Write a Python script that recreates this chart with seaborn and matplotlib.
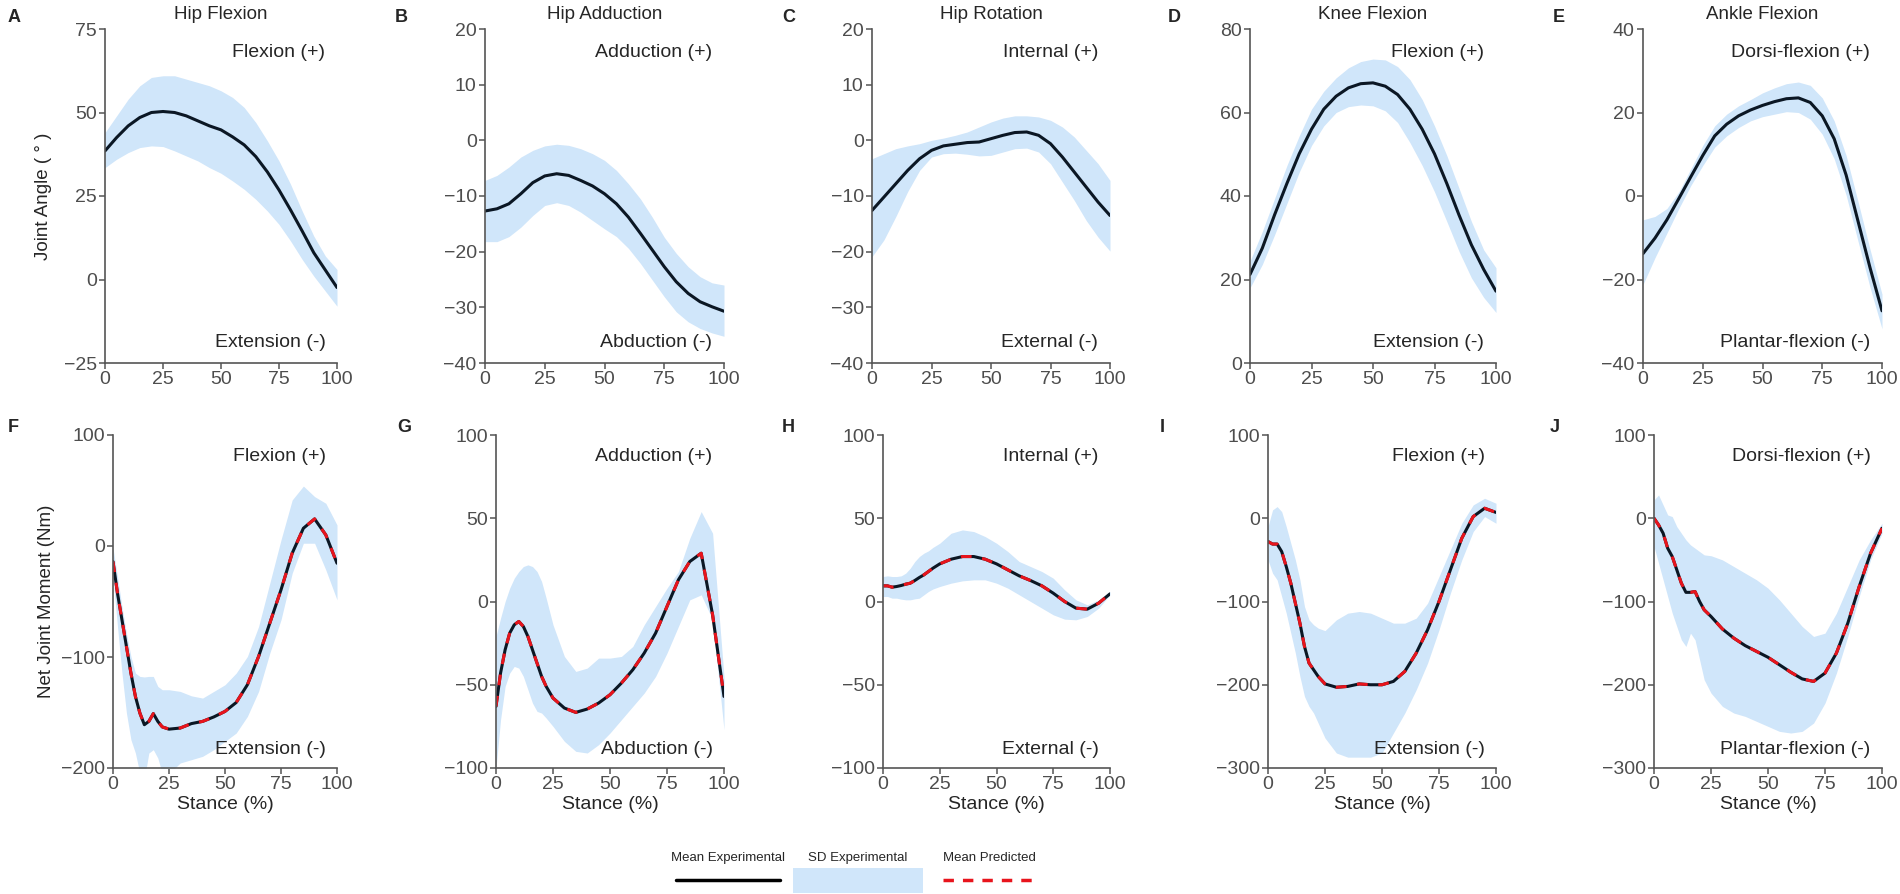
import seaborn as sns
import matplotlib.pyplot as plt
import numpy as np
import pandas as pd

# stance percentage for angles (top row) and moments (bottom row)
x_top = [0, 5, 10, 15, 20, 25, 30, 35, 40, 45, 50, 55, 60, 65, 70, 75, 80, 85, 90, 95, 100]
x_bot = [0, 2, 4, 6, 8, 10, 12, 14, 16, 18, 20, 22, 25, 30, 35, 40, 45, 50, 55, 60, 65, 70, 75, 80, 85, 90, 95, 100]

# ---- joint angles (deg) ----
hip_flex_mean = [38.5, 42.5, 46, 48.5, 50, 50.3, 50, 49, 47.5, 46, 44.8, 42.7, 40.3, 36.8, 32.2, 26.8, 20.8, 14.5, 8, 2.8, -2.4]
hip_flex_up = [44, 49, 54, 58, 60.5, 61, 61, 60, 59, 58, 56.5, 54.5, 51.5, 47, 41.5, 35.5, 28.5, 20.5, 13, 7, 3]
hip_flex_lo = [33.5, 36, 38, 39.5, 40, 39.8, 38.5, 37, 35.5, 33.5, 31.8, 29.5, 27, 24, 20.5, 16.5, 11.5, 6, 1, -3.5, -8]

hip_add_mean = [-12.7, -12.3, -11.4, -9.6, -7.6, -6.4, -6.0, -6.3, -7.2, -8.2, -9.6, -11.4, -13.8, -16.7, -19.7, -22.7, -25.4, -27.5, -29.0, -29.9, -30.7]
hip_add_up = [-7.2, -6.3, -4.8, -3.0, -1.8, -1.0, -0.7, -0.9, -1.5, -2.4, -3.6, -5.4, -7.8, -10.5, -13.8, -17.4, -20.3, -22.7, -24.5, -25.6, -26.0]
hip_add_lo = [-18.2, -18.2, -17.3, -15.6, -13.5, -11.7, -11.2, -11.7, -12.9, -14.4, -15.9, -17.3, -19.4, -22.1, -25.1, -28.1, -30.8, -32.6, -33.8, -34.6, -35.2]

hip_rot_mean = [-12.6, -10.2, -7.8, -5.4, -3.3, -1.8, -1.0, -0.7, -0.4, -0.3, 0.3, 0.9, 1.4, 1.5, 0.9, -0.6, -3.0, -5.7, -8.4, -11.1, -13.5]
hip_rot_up = [-3.3, -2.4, -1.5, -1.0, -0.6, 0.0, 0.4, 0.9, 1.5, 2.4, 3.3, 4.0, 4.4, 4.4, 4.2, 3.6, 2.4, 0.6, -1.8, -4.2, -7.2]
hip_rot_lo = [-20.9, -17.9, -13.7, -9.2, -5.4, -3.0, -2.4, -2.3, -2.5, -2.8, -2.7, -2.1, -1.5, -1.4, -2.1, -4.2, -7.5, -10.8, -14.4, -17.4, -19.9]

knee_flex_mean = [21.2, 27.5, 35.5, 43.0, 50.1, 56.0, 60.8, 63.9, 65.9, 66.9, 67.1, 66.3, 64.3, 60.8, 56.0, 50.1, 43.0, 35.4, 28.3, 22.4, 17.2]
knee_flex_up = [24.4, 31.5, 39.4, 47.3, 54.4, 60.8, 65.1, 68.3, 70.7, 72.2, 72.8, 72.6, 71.0, 67.9, 63.1, 56.8, 49.7, 41.8, 33.9, 27.1, 22.8]
knee_flex_lo = [18.0, 23.6, 30.7, 38.2, 45.7, 52.1, 56.8, 60.0, 61.4, 61.8, 61.6, 60.4, 57.6, 52.8, 47.3, 41.0, 33.9, 26.7, 20.4, 15.7, 12.1]

ankle_flex_mean = [-13.8, -10.1, -5.7, -0.6, 4.6, 9.7, 14.4, 17.2, 19.2, 20.6, 21.7, 22.6, 23.3, 23.5, 22.4, 19.2, 13.7, 5.0, -6.1, -17.2, -27.5]
ankle_flex_up = [-5.7, -4.9, -3.0, 1.0, 6.5, 12.1, 16.8, 19.6, 21.6, 23.1, 24.7, 25.9, 26.9, 27.3, 26.5, 23.5, 18.0, 9.7, -1.4, -12.8, -23.5]
ankle_flex_lo = [-21.2, -14.8, -8.9, -3.0, 2.5, 7.3, 11.7, 14.4, 16.4, 18.0, 19.0, 19.6, 20.2, 20.0, 18.4, 14.8, 8.9, 0.2, -10.9, -21.9, -31.8]

# ---- net joint moments (Nm) ----
hip_flex_m_mean = [-14, -42.5, -66.5, -90.5, -114.5, -135.5, -150.5, -161, -158, -151, -158, -163, -165, -164, -160, -158, -154, -149, -141, -125, -99.5, -69.5, -39.5, -6.5, 16, 24.4, 10, -15.5]
hip_flex_m_up = [-2, -27.5, -54.5, -78.5, -99.5, -114.5, -117.5, -118, -117.5, -117.5, -126.5, -129.5, -129.5, -131, -135, -137, -131, -125, -114.5, -99.5, -72.5, -33.5, 5.5, 41.5, 54, 44.5, 38.5, 19]
hip_flex_m_lo = [-27.5, -72.5, -114.5, -150.5, -174.5, -186.5, -205, -210, -186.5, -183.5, -191, -205, -205, -195.5, -192.5, -189.5, -183.5, -176, -168.5, -153.5, -131, -96.5, -66.5, -24.5, 2.5, 2.5, -21.5, -48.5]

hip_add_m_mean = [-63, -43, -29, -19, -14, -12, -15, -21, -29, -37, -45, -51, -58, -64, -66.6, -64.6, -61, -56, -49, -41, -31, -19, -3, 13, 24, 29, -8, -57]
hip_add_m_up = [-21, -10, 0, 8, 14, 18, 21, 22, 21, 18, 12, 2, -14, -33, -42, -40, -34, -34, -33, -27, -14, -3, 8, 18, 38, 54, 41, -45]
hip_add_m_lo = [-100, -71, -51, -43, -39, -40, -45, -53, -61, -66, -67, -70, -75, -84, -90, -91, -86, -79, -71, -63, -55, -45, -31, -15, 1, 4, -11, -77]

hip_rot_m_mean = [9.4, 9.4, 8.6, 9, 9.6, 10.4, 11, 12.6, 14.4, 16, 18, 20, 22.6, 25.4, 27, 27, 25.4, 22.6, 19, 15.4, 12.6, 9.4, 5, 0, -4, -4.6, -1, 4.6]
hip_rot_m_up = [15, 15.4, 15, 15, 15.4, 17, 20, 24, 27, 29, 30.4, 32.5, 35, 41, 43, 42, 39, 35, 30, 24, 21, 18, 14, 7, 1, -2, 1, 6]
hip_rot_m_lo = [3, 3, 2, 2, 1.4, 1, 1, 1.6, 2, 4, 6, 7.5, 9, 11, 12.4, 13, 13, 11, 8, 4, 0, -4, -8, -10.6, -11, -9, -4, 4]

knee_flex_m_mean = [-28, -31, -31, -40, -58, -78, -102, -126, -154, -174, -182, -190, -199, -203, -202, -199, -200, -200, -196, -184, -162, -134, -100, -62, -24, 2, 12, 7]
knee_flex_m_up = [-10, 10, 14, 8, -10, -30, -50, -74, -106, -122, -128, -132, -135, -122, -114, -112, -114, -120, -126, -126, -120, -102, -70, -38, -6, 16, 24, 18]
knee_flex_m_lo = [-50, -66, -74, -94, -114, -138, -162, -190, -214, -226, -234, -246, -264, -282, -287, -287, -287, -282, -258, -234, -206, -174, -134, -90, -50, -16, 2, -6]

ankle_flex_m_mean = [0, -8, -18, -36, -46, -62, -78, -89, -89, -88, -100, -110, -118, -133, -144, -153, -160, -167, -176, -185, -193, -196, -186, -162, -126, -82, -42, -12]
ankle_flex_m_up = [22, 28, 16, 4, 2, -10, -18, -26, -32, -36, -40, -44, -45, -50, -58, -66, -74, -84, -98, -114, -130, -142, -138, -114, -82, -50, -26, -6]
ankle_flex_m_lo = [-34, -54, -74, -94, -114, -130, -146, -154, -138, -146, -170, -194, -210, -226, -234, -238, -244, -250, -256, -258, -256, -246, -222, -186, -142, -94, -50, -18]

titles = ["Hip Flexion", "Hip Adduction", "Hip Rotation", "Knee Flexion", "Ankle Flexion"]
pos_labels = ["Flexion (+)", "Adduction (+)", "Internal (+)", "Flexion (+)", "Dorsi-flexion (+)"]
neg_labels = ["Extension (-)", "Abduction (-)", "External (-)", "Extension (-)", "Plantar-flexion (-)"]
letters_top = ["A", "B", "C", "D", "E"]
letters_bot = ["F", "G", "H", "I", "J"]

angle_data = [(hip_flex_mean, hip_flex_up, hip_flex_lo), (hip_add_mean, hip_add_up, hip_add_lo),
              (hip_rot_mean, hip_rot_up, hip_rot_lo), (knee_flex_mean, knee_flex_up, knee_flex_lo),
              (ankle_flex_mean, ankle_flex_up, ankle_flex_lo)]
moment_data = [(hip_flex_m_mean, hip_flex_m_up, hip_flex_m_lo), (hip_add_m_mean, hip_add_m_up, hip_add_m_lo),
               (hip_rot_m_mean, hip_rot_m_up, hip_rot_m_lo), (knee_flex_m_mean, knee_flex_m_up, knee_flex_m_lo),
               (ankle_flex_m_mean, ankle_flex_m_up, ankle_flex_m_lo)]

angle_ylims = [(-25, 75, 25), (-40, 20, 10), (-40, 20, 10), (0, 80, 20), (-40, 40, 20)]
moment_ylims = [(-200, 100, 100), (-100, 100, 50), (-100, 100, 50), (-300, 100, 100), (-300, 100, 100)]

# axes boxes in pixels (left, right)
top_x = [(105, 337), (485, 724), (872, 1110), (1250, 1496), (1643, 1882)]
bot_x = [(113, 337), (496, 724), (883, 1110), (1268, 1496), (1654, 1882)]
top_letter_x = [8, 395, 782, 1168, 1553]
bot_letter_x = [8, 397, 782, 1160, 1550]

BAND = "#d0e6fa"
LINE = "#0b1724"
RED = "#e8141c"
GREY = "#4d4d4d"
W, H = 1900, 894

sns.set_style("ticks")
plt.rcParams['font.family'] = ['Liberation Sans', 'DejaVu Sans']

fig = plt.figure(figsize=(19, 8.94), dpi=100)


def box(l, r, t, b):
    return [l / W, 1 - b / H, (r - l) / W, (b - t) / H]


def draw_panel(ax, x, mean, up, lo, ylim, predicted):
    ax.fill_between(x, lo, up, color=BAND, lw=0)
    sns.lineplot(x=x, y=mean, ax=ax, color=LINE, lw=2.2)
    if predicted:
        sns.lineplot(x=x, y=mean, ax=ax, color=RED, lw=2.2, linestyle=(0, (3.5, 3.5)))
    ax.set_xlim(0, 100)
    ax.set_ylim(ylim[0], ylim[1])
    ax.set_xticks([0, 25, 50, 75, 100])
    ax.set_yticks(np.arange(ylim[0], ylim[1] + 1, ylim[2]))
    ax.margins(0)
    sns.despine(ax=ax)
    for s in ["left", "bottom"]:
        ax.spines[s].set_color("#555555")
        ax.spines[s].set_linewidth(1.2)
    ax.tick_params(axis="both", labelsize=14, colors="#555555", labelcolor=GREY, length=4, width=1.1, pad=2)
    ax.set_xlabel("")
    ax.set_ylabel("")


for i in range(5):
    l, r = top_x[i]
    ax = fig.add_axes(box(l, r, 29, 363))
    m, u, lo = angle_data[i]
    draw_panel(ax, x_top, m, u, lo, angle_ylims[i], False)
    ax.set_title(titles[i], fontsize=13.5, pad=7)
    ax.text(0.95, 0.93, pos_labels[i], transform=ax.transAxes, ha="right", va="center", fontsize=14)
    ax.text(0.95, 0.06, neg_labels[i], transform=ax.transAxes, ha="right", va="center", fontsize=14)
    fig.text(top_letter_x[i] / W, 1 - 17 / H, letters_top[i], fontsize=13, fontweight="bold", ha="left", va="center")
    if i == 0:
        ax.set_ylabel("Joint Angle ( ° )", fontsize=13.5, labelpad=8)

    l, r = bot_x[i]
    ax = fig.add_axes(box(l, r, 435, 768))
    m, u, lo = moment_data[i]
    draw_panel(ax, x_bot, m, u, lo, moment_ylims[i], True)
    ax.text(0.95, 0.935, pos_labels[i], transform=ax.transAxes, ha="right", va="center", fontsize=14)
    ax.text(0.95, 0.057, neg_labels[i], transform=ax.transAxes, ha="right", va="center", fontsize=14)
    ax.set_xlabel("Stance (%)", fontsize=14, labelpad=2)
    fig.text(bot_letter_x[i] / W, 1 - 427 / H, letters_bot[i], fontsize=13, fontweight="bold", ha="left", va="center")
    if i == 0:
        ax.set_ylabel("Net Joint Moment (Nm)", fontsize=13.5, labelpad=4)

# custom legend below the panels
lax = fig.add_axes([0, 0, 1, 1], facecolor="none")
lax.set_xlim(0, W)
lax.set_ylim(H, 0)
lax.axis("off")
lax.text(728, 858, "Mean Experimental", ha="center", va="center", fontsize=9.5)
lax.plot([676, 780], [880, 880], color="black", lw=2.5)
lax.text(858, 858, "SD Experimental", ha="center", va="center", fontsize=9.5)
lax.fill_between([793, 923], [868, 868], [893, 893], color=BAND, lw=0)
lax.text(989, 858, "Mean Predicted", ha="center", va="center", fontsize=9.5)
lax.plot([943, 1032], [880, 880], color=RED, lw=2.5, linestyle=(0, (3, 2.6)))

fig.savefig("out.png", dpi=100)
